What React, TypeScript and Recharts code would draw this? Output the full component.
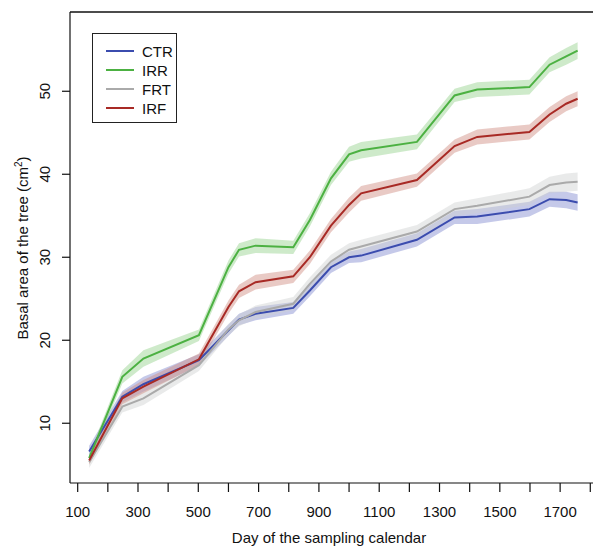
import React from "react";
import {
  ComposedChart,
  Line,
  Area,
  XAxis,
  YAxis,
  ReferenceLine,
} from "recharts";

// sampling days
const days = [138, 248, 318, 502, 600, 635, 690, 815, 870, 940, 1000, 1040, 1225, 1350, 1425, 1598, 1665, 1720, 1758];

// mean basal area per treatment (cm2)
const ctr = [6.6, 13.2, 14.7, 17.6, 21.2, 22.5, 23.2, 23.9, 26.0, 28.8, 30.0, 30.2, 32.1, 34.8, 34.9, 35.8, 37.0, 36.9, 36.6];
const irr = [5.8, 15.6, 17.8, 20.6, 28.8, 30.9, 31.4, 31.2, 34.5, 39.5, 42.4, 42.9, 43.9, 49.5, 50.2, 50.5, 53.2, 54.2, 54.9];
const frt = [5.3, 12.0, 13.0, 17.0, 21.3, 22.4, 23.4, 24.4, 26.8, 29.5, 30.9, 31.3, 33.1, 35.8, 36.2, 37.3, 38.7, 39.0, 39.1];
const irf = [5.5, 13.0, 14.4, 17.7, 24.0, 25.9, 27.0, 27.7, 30.0, 33.8, 36.3, 37.7, 39.3, 43.4, 44.5, 45.1, 47.2, 48.5, 49.1];

// half width of the shaded bands
const ctrBand = [0.7, 0.7, 0.9, 0.7, 0.7, 0.7, 0.8, 0.7, 0.7, 0.7, 0.7, 0.8, 0.8, 0.8, 0.9, 0.9, 0.9, 1.0, 1.0];
const irrBand = [0.5, 0.8, 1.0, 0.7, 0.8, 0.8, 0.9, 0.8, 0.8, 0.8, 0.9, 1.0, 0.9, 0.8, 0.9, 0.9, 0.9, 1.0, 1.0];
const frtBand = [0.7, 0.7, 0.8, 0.7, 0.7, 0.7, 0.8, 0.8, 0.8, 0.8, 0.8, 0.8, 0.8, 0.8, 0.9, 1.0, 1.0, 1.1, 1.1];
const irfBand = [0.5, 0.7, 0.8, 0.7, 0.8, 0.8, 0.9, 0.8, 0.8, 0.8, 0.9, 0.9, 0.8, 0.8, 0.9, 0.9, 0.9, 0.9, 0.9];

const xTicks = [100, 200, 300, 400, 500, 600, 700, 800, 900, 1000, 1100, 1200, 1300, 1400, 1500, 1600, 1700, 1800];
const xLabels = [100, 300, 500, 700, 900, 1100, 1300, 1500, 1700];
const yTicks = [10, 20, 30, 40, 50];

const series = [
  { key: "ctr", name: "CTR", line: "#3b4cae", band: "#7f88cf" },
  { key: "irr", name: "IRR", line: "#4cb142", band: "#93d08a" },
  { key: "frt", name: "FRT", line: "#aaaaaa", band: "#cfd1d1" },
  { key: "irf", name: "IRF", line: "#a82a25", band: "#cf8a7f" },
];

const data = days.map((d, i) => ({
  day: d,
  ctr: ctr[i],
  irr: irr[i],
  frt: frt[i],
  irf: irf[i],
  ctrRange: [ctr[i] - ctrBand[i], ctr[i] + ctrBand[i]],
  irrRange: [irr[i] - irrBand[i], irr[i] + irrBand[i]],
  frtRange: [frt[i] - frtBand[i], frt[i] + frtBand[i]],
  irfRange: [irf[i] - irfBand[i], irf[i] + irfBand[i]],
}));

const font = "'Liberation Sans', Arial, sans-serif";
const Y_MIN = 2.8;
const Y_MAX = 59.55;

const XTick = (props: any) => {
  const { x, y, payload } = props;
  if (!xLabels.includes(payload.value)) return null;
  return (
    <text x={x} y={y + 23} textAnchor="middle" fontSize={15} fill="#111" fontFamily={font}>
      {payload.value}
    </text>
  );
};

const YTick = (props: any) => {
  const { y, payload } = props;
  return (
    <text
      x={50}
      y={y}
      textAnchor="middle"
      fontSize={15}
      fill="#111"
      fontFamily={font}
      transform={`rotate(-90, 50, ${y})`}
    >
      {payload.value}
    </text>
  );
};

const LegendBox = () => (
  <div
    style={{
      position: "absolute",
      left: 92,
      top: 33,
      width: 85,
      height: 90,
      border: "1.2px solid #222",
      background: "#fff",
      fontFamily: font,
      fontSize: 15,
      color: "#111",
      boxSizing: "border-box",
    }}
  >
    {series.map((s, i) => (
      <div
        key={s.key}
        style={{ position: "absolute", left: 13, top: 8 + i * 19, height: 18, display: "flex", alignItems: "center" }}
      >
        <div style={{ width: 28, height: s.key === "irr" ? 2 : 1.5, background: s.line }} />
        <span style={{ marginLeft: 8 }}>{s.name}</span>
      </div>
    ))}
  </div>
);

const App = () => {
  return (
    <div style={{ position: "absolute", left: 0, top: 0, width: 593, height: 547, background: "#fff" }}>
      <ComposedChart width={593} height={547} data={data} margin={{ top: 12, right: 0, left: 0, bottom: 0 }}>
        <XAxis
          dataKey="day"
          type="number"
          domain={[74.5, 1809]}
          ticks={xTicks}
          interval={0}
          allowDataOverflow
          height={64}
          tick={<XTick />}
          tickSize={9}
          tickLine={{ stroke: "#111", strokeWidth: 1.2 }}
          axisLine={{ stroke: "#111", strokeWidth: 1.2 }}
          label={{
            content: () => (
              <text x={329} y={543} textAnchor="middle" fontSize={15} fill="#111" fontFamily={font}>
                Day of the sampling calendar
              </text>
            ),
          }}
        />
        <YAxis
          type="number"
          domain={[Y_MIN, Y_MAX]}
          ticks={yTicks}
          allowDataOverflow
          width={70}
          tick={<YTick />}
          tickSize={8}
          tickLine={{ stroke: "#111", strokeWidth: 1.2 }}
          axisLine={{ stroke: "#111", strokeWidth: 1.2 }}
          label={{
            content: () => (
              <text
                x={28}
                y={248}
                textAnchor="middle"
                fontSize={15}
                fill="#111"
                fontFamily={font}
                transform="rotate(-90, 28, 248)"
              >
                Basal area of the tree (cm<tspan dy={-6} fontSize={10}>2</tspan>
                <tspan dy={6}>)</tspan>
              </text>
            ),
          }}
        />
        <ReferenceLine y={Y_MAX} stroke="#111" strokeWidth={1.5} ifOverflow="visible" />

        {/* bands */}
        {series.map((s) => (
          <Area
            key={s.key + "Band"}
            type="linear"
            dataKey={s.key + "Range"}
            stroke="none"
            fill={s.band}
            fillOpacity={0.45}
            isAnimationActive={false}
            activeDot={false}
          />
        ))}

        {/* mean lines */}
        {series.map((s) => (
          <Line
            key={s.key}
            type="linear"
            dataKey={s.key}
            stroke={s.line}
            strokeWidth={2}
            dot={false}
            activeDot={false}
            isAnimationActive={false}
          />
        ))}
      </ComposedChart>
      <LegendBox />
    </div>
  );
};

export default App;
